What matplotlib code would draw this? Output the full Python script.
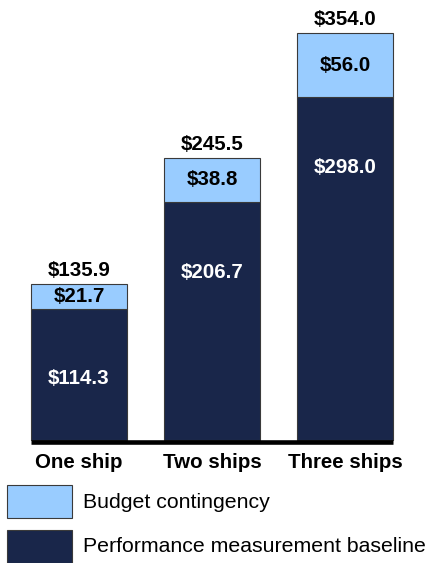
import matplotlib
matplotlib.use("Agg")
import matplotlib.pyplot as plt
from matplotlib.patches import Rectangle

categories = ["One ship", "Two ships", "Three ships"]
baseline = [114.3, 206.7, 298.0]
contingency = [21.7, 38.8, 56.0]
totals = [135.9, 245.5, 354.0]
series_names = ["Budget contingency", "Performance measurement baseline"]

DARK = "#19264a"
LIGHT = "#99ccff"
EDGE = "#3a3a3a"

plt.rcParams['font.family'] = ['Liberation Sans', 'DejaVu Sans']

W, H, DPI = 428, 563, 100
fig = plt.figure(figsize=(W / DPI, H / DPI), dpi=DPI)

left_px, right_px, base_px, top_px = 31, 393, 440, 0
ax = fig.add_axes([left_px / W, (H - base_px) / H, (right_px - left_px) / W, (base_px - top_px) / H])

bw = 0.722
x = list(range(len(categories)))
b1 = ax.bar(x, baseline, width=bw, color=DARK, edgecolor=EDGE, linewidth=0.8)
b2 = ax.bar(x, contingency, width=bw, bottom=baseline, color=LIGHT, edgecolor=EDGE, linewidth=0.8)
for p in list(b1) + list(b2):
    p.set_clip_on(False)

ax.set_xlim(-bw / 2, len(categories) - 1 + bw / 2)
ax.set_ylim(0, base_px / 1.15)

for s in ["top", "left", "right"]:
    ax.spines[s].set_visible(False)
ax.spines["bottom"].set_linewidth(3.3)
ax.spines["bottom"].set_color("black")
ax.spines["bottom"].set_capstyle("butt")
ax.spines["bottom"].set_position(("outward", 1.6))
ax.set_yticks([])
ax.set_xticks(x)
ax.set_xticklabels(categories, fontsize=14.8, fontweight="bold")
ax.tick_params(axis="x", length=0, pad=8)

fs = 14.8
for i in x:
    # baseline value label, placed a fixed distance below the segment top
    ax.annotate(f"${baseline[i]:.1f}", (i, baseline[i]), xytext=(0, -70),
                textcoords="offset pixels", ha="center", va="center",
                color="white", fontsize=fs, fontweight="bold")
    ax.text(i, baseline[i] + contingency[i] / 2, f"${contingency[i]:.1f}",
            ha="center", va="center", color="black", fontsize=fs, fontweight="bold")
    ax.annotate(f"${totals[i]:.1f}", (i, totals[i]), xytext=(0, 13),
                textcoords="offset pixels", ha="center", va="center",
                color="black", fontsize=fs, fontweight="bold", annotation_clip=False)

# legend
key_colors = [LIGHT, DARK]
key_tops = [485, 530]
for name, c, t in zip(series_names, key_colors, key_tops):
    fig.add_artist(Rectangle((7 / W, (H - t - 33) / H), 65 / W, 33 / H,
                             transform=fig.transFigure, facecolor=c,
                             edgecolor=EDGE, linewidth=0.8))
    fig.text(83 / W, (H - t - 17) / H, name, ha="left", va="center",
             fontsize=15.3, color="black")

fig.savefig("out.png", dpi=DPI)
